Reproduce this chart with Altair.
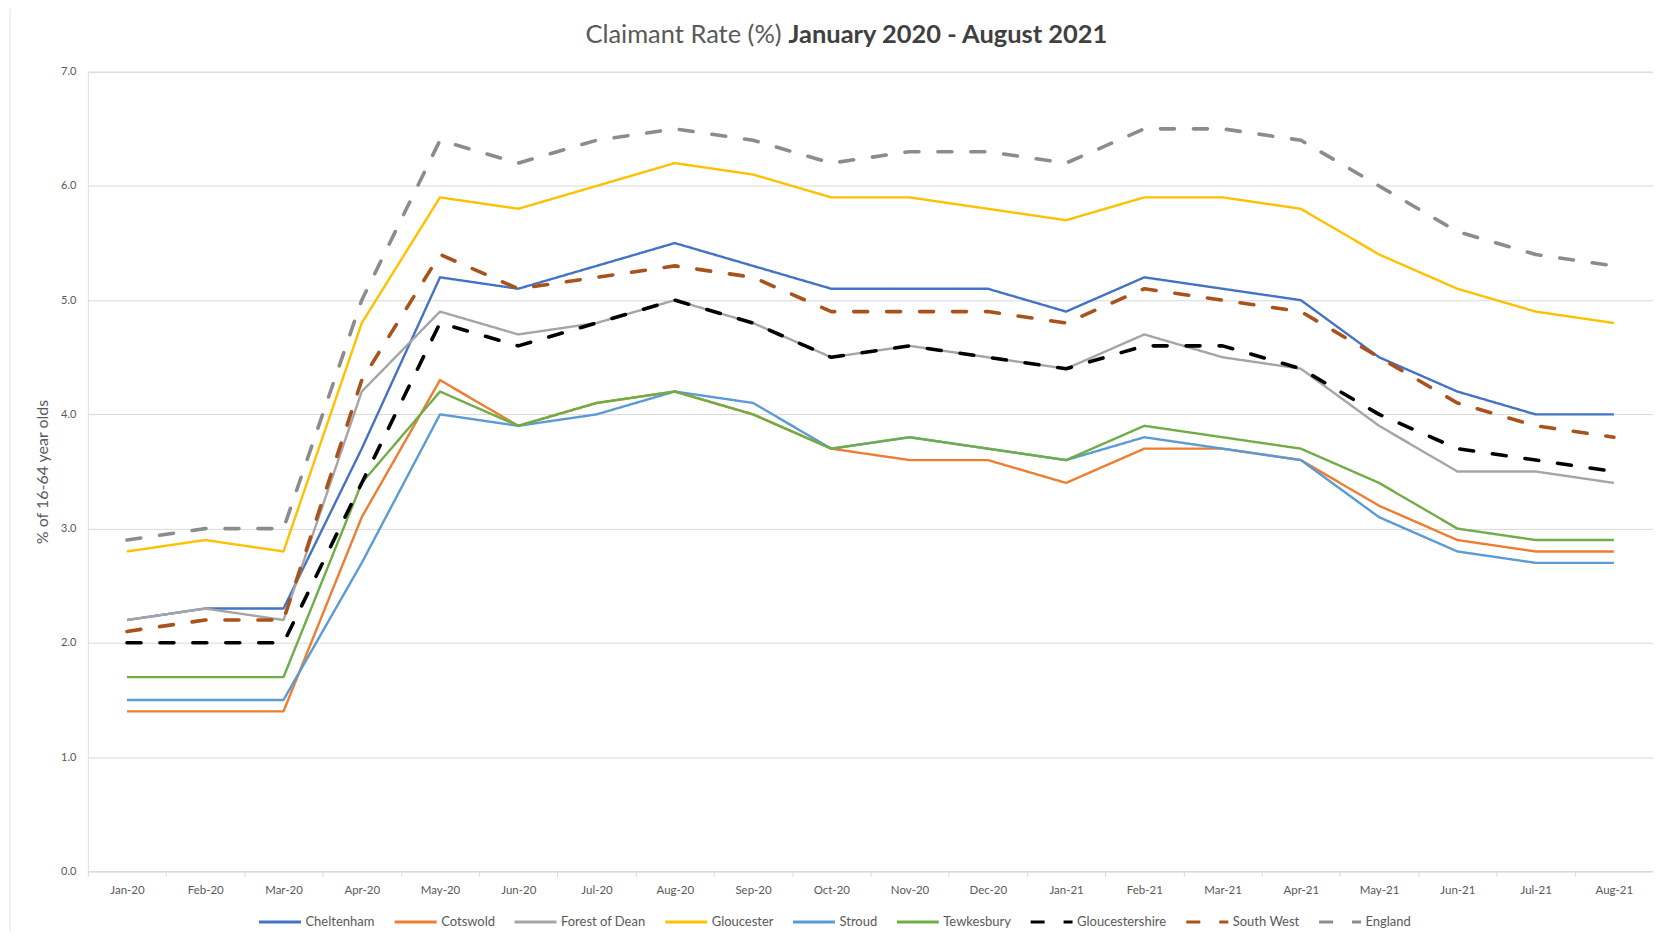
import altair as alt
import pandas as pd

months = ["Jan-20", "Feb-20", "Mar-20", "Apr-20", "May-20", "Jun-20", "Jul-20", "Aug-20",
          "Sep-20", "Oct-20", "Nov-20", "Dec-20", "Jan-21", "Feb-21", "Mar-21", "Apr-21",
          "May-21", "Jun-21", "Jul-21", "Aug-21"]

series_names = ["Cheltenham", "Cotswold", "Forest of Dean", "Gloucester", "Stroud",
                "Tewkesbury", "Gloucestershire", "South West", "England"]

cheltenham = [2.2, 2.3, 2.3, 3.7, 5.2, 5.1, 5.3, 5.5, 5.3, 5.1, 5.1, 5.1, 4.9, 5.2, 5.1, 5.0, 4.5, 4.2, 4.0, 4.0]
cotswold = [1.4, 1.4, 1.4, 3.1, 4.3, 3.9, 4.1, 4.2, 4.0, 3.7, 3.6, 3.6, 3.4, 3.7, 3.7, 3.6, 3.2, 2.9, 2.8, 2.8]
forest_of_dean = [2.2, 2.3, 2.2, 4.2, 4.9, 4.7, 4.8, 5.0, 4.8, 4.5, 4.6, 4.5, 4.4, 4.7, 4.5, 4.4, 3.9, 3.5, 3.5, 3.4]
gloucester = [2.8, 2.9, 2.8, 4.8, 5.9, 5.8, 6.0, 6.2, 6.1, 5.9, 5.9, 5.8, 5.7, 5.9, 5.9, 5.8, 5.4, 5.1, 4.9, 4.8]
stroud = [1.5, 1.5, 1.5, 2.7, 4.0, 3.9, 4.0, 4.2, 4.1, 3.7, 3.8, 3.7, 3.6, 3.8, 3.7, 3.6, 3.1, 2.8, 2.7, 2.7]
tewkesbury = [1.7, 1.7, 1.7, 3.4, 4.2, 3.9, 4.1, 4.2, 4.0, 3.7, 3.8, 3.7, 3.6, 3.9, 3.8, 3.7, 3.4, 3.0, 2.9, 2.9]
gloucestershire = [2.0, 2.0, 2.0, 3.4, 4.8, 4.6, 4.8, 5.0, 4.8, 4.5, 4.6, 4.5, 4.4, 4.6, 4.6, 4.4, 4.0, 3.7, 3.6, 3.5]
south_west = [2.1, 2.2, 2.2, 4.3, 5.4, 5.1, 5.2, 5.3, 5.2, 4.9, 4.9, 4.9, 4.8, 5.1, 5.0, 4.9, 4.5, 4.1, 3.9, 3.8]
england = [2.9, 3.0, 3.0, 5.0, 6.4, 6.2, 6.4, 6.5, 6.4, 6.2, 6.3, 6.3, 6.2, 6.5, 6.5, 6.4, 6.0, 5.6, 5.4, 5.3]

solid_series = ["Cheltenham", "Cotswold", "Forest of Dean", "Gloucester", "Stroud", "Tewkesbury"]
dashed_series = ["Gloucestershire", "South West", "England"]

colors = ["#4472C4", "#ED7D31", "#A5A5A5", "#FFC000", "#5B9BD5", "#70AD47",
          "#000000", "#A9521B", "#8C8C8C"]

y_ticks = [0, 1, 2, 3, 4, 5, 6, 7]

title_normal = "Claimant Rate (%)"
title_bold = "January 2020 - August 2021"
y_title = "% of 16-64 year olds"

all_values = [cheltenham, cotswold, forest_of_dean, gloucester, stroud, tewkesbury,
              gloucestershire, south_west, england]

rows = []
for name, vals in zip(series_names, all_values):
    for m, v in zip(months, vals):
        rows.append({"month": m, "series": name, "value": v})
df = pd.DataFrame(rows)

dash_range = [[1, 0] if s in solid_series else [14, 19] for s in series_names]

FONT = "Lato"
TXT = "#595959"

legend_kw = dict(
    title=None, orient="none", legendX=170, legendY=829, direction="horizontal",
    columns=9, symbolType="stroke", symbolSize=1764, symbolStrokeWidth=3,
    labelFontSize=13, labelColor=TXT, labelFont=FONT, columnPadding=13,
    labelOffset=3,
)

x_enc = alt.X("month:N", sort=months,
              scale=alt.Scale(type="band", paddingInner=0, paddingOuter=0),
              bandPosition=0.5,
              axis=alt.Axis(title=None, labelAngle=0, tickBand="extent",
                            domainColor="#D9D9D9", tickColor="#D9D9D9", tickSize=5,
                            labelPadding=8, labelFontSize=11.5, labelColor=TXT,
                            labelFont=FONT, grid=False))
y_enc = alt.Y("value:Q", scale=alt.Scale(domain=[0, 7], nice=False),
              axis=alt.Axis(values=y_ticks, format=".1f", title=y_title,
                            titleColor=TXT, titleFontSize=16, titleFontWeight="normal",
                            titleFont=FONT, titlePadding=10,
                            domain=False, ticks=False, gridColor="#D9D9D9",
                            labelPadding=12, labelFontSize=11, labelColor=TXT,
                            labelFont=FONT))
color_enc = alt.Color("series:N", sort=series_names,
                      scale=alt.Scale(domain=series_names, range=colors),
                      legend=alt.Legend(**legend_kw))
dash_enc = alt.StrokeDash("series:N", sort=series_names,
                          scale=alt.Scale(domain=series_names, range=dash_range),
                          legend=alt.Legend(**legend_kw))

solid = alt.Chart(df).transform_filter(
    alt.FieldOneOfPredicate(field="series", oneOf=solid_series)
).mark_line(strokeWidth=2.4, strokeJoin="round").encode(
    x=x_enc, y=y_enc, color=color_enc, strokeDash=dash_enc
)

dashed = alt.Chart(df).transform_filter(
    alt.FieldOneOfPredicate(field="series", oneOf=dashed_series)
).mark_line(strokeWidth=3.6, strokeJoin="round", strokeCap="round").encode(
    x=x_enc, y=y_enc, color=color_enc, strokeDash=dash_enc
)

tdf = pd.DataFrame({"a": [title_normal], "b": [title_bold]})
t1 = alt.Chart(tdf).mark_text(align="right", baseline="middle", fontSize=25.5,
                              font=FONT, color=TXT).encode(
    x=alt.value(695), y=alt.value(-37), text="a:N")
t2 = alt.Chart(tdf).mark_text(align="left", baseline="middle", fontSize=25.5,
                              font=FONT, fontWeight="bold", color="#404040").encode(
    x=alt.value(702), y=alt.value(-37), text="b:N")
border = alt.Chart(tdf).mark_rule(color="#E3E3E3", strokeWidth=1).encode(
    x=alt.value(-78), y=alt.value(-63), y2=alt.value(861))

chart = alt.layer(solid, dashed, t1, t2, border).properties(
    width=1568, height=801,
    padding={"left": 80, "top": 63, "right": 0, "bottom": 60},
    autosize=alt.AutoSizeParams(type="none"),
).configure_view(stroke=None).configure(background="white")

chart.save("out.html", embed_options={"renderer": "svg", "actions": False})
